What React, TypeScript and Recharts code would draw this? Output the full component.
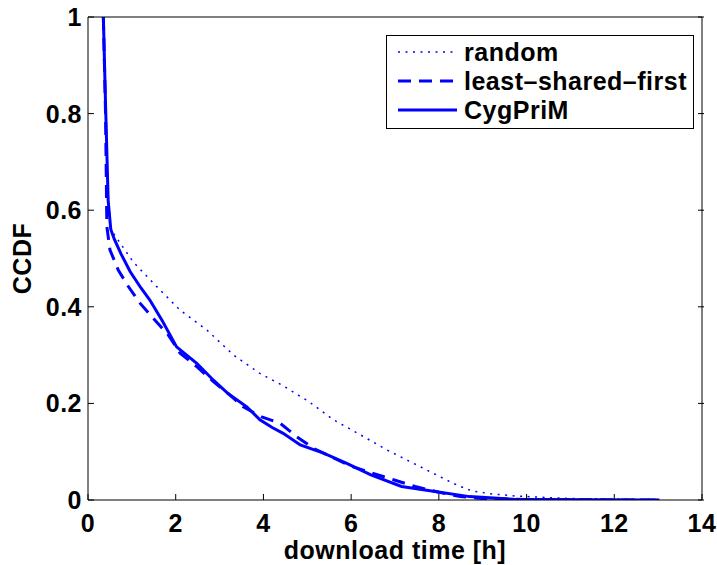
import { LineChart, Line, XAxis, YAxis, Legend, Label } from "recharts";

// download time [h] / CCDF
const randomX = [0.35, 0.4, 0.46, 0.52, 0.58, 1.03, 1.49, 2.1, 2.71, 3.32, 3.92, 4.42, 5.03, 5.6, 6.21, 6.81, 7.42, 8.03, 8.41, 8.75, 9.17, 9.78, 11.0, 12.97];
const randomY = [1, 0.82, 0.63, 0.565, 0.552, 0.493, 0.449, 0.393, 0.352, 0.3, 0.262, 0.238, 0.204, 0.166, 0.135, 0.104, 0.076, 0.048, 0.031, 0.019, 0.013, 0.008, 0.003, 0.001];

const lsfX = [0.35, 0.4, 0.43, 0.5, 0.69, 0.92, 1.19, 1.49, 1.83, 2.1, 2.48, 2.86, 3.2, 3.54, 3.96, 4.38, 4.76, 5.14, 5.6, 6.0, 6.5, 7.0, 7.46, 8.0, 8.49, 9.0, 10, 11, 12, 13];
const lsfY = [1, 0.8, 0.566, 0.518, 0.476, 0.442, 0.407, 0.376, 0.342, 0.304, 0.276, 0.245, 0.22, 0.193, 0.172, 0.159, 0.131, 0.107, 0.087, 0.07, 0.055, 0.041, 0.028, 0.016, 0.007, 0.003, 0.001, 0.0005, 0.0002, 0];

const cygX = [0.35, 0.4, 0.46, 0.52, 0.6, 0.75, 0.96, 1.2, 1.41, 1.7, 2.02, 2.25, 2.48, 2.86, 3.2, 3.62, 3.92, 4.2, 4.45, 4.84, 5.37, 5.9, 6.45, 7.15, 7.95, 8.7, 9.7, 10.5, 11.5, 13.03];
const cygY = [1, 0.82, 0.62, 0.56, 0.54, 0.51, 0.473, 0.44, 0.414, 0.37, 0.317, 0.3, 0.283, 0.248, 0.22, 0.193, 0.166, 0.15, 0.138, 0.114, 0.097, 0.076, 0.052, 0.028, 0.017, 0.007, 0.0015, 0.001, 0.0005, 0];

const xTicks = [0, 2, 4, 6, 8, 10, 12, 14];
const yTicks = [0, 0.2, 0.4, 0.6, 0.8, 1];

const toPoints = (xs: number[], ys: number[]) => xs.map((x, i) => ({ t: x, p: ys[i] }));

const BLUE = "#0000ff";
const FONT = "'Liberation Sans', Arial, sans-serif";

const series = [
  { name: "random", data: toPoints(randomX, randomY), width: 1.5, dash: "2 5.5" },
  { name: "least\u2013shared\u2013first", data: toPoints(lsfX, lsfY), width: 3, dash: "13 8" },
  { name: "CygPriM", data: toPoints(cygX, cygY), width: 3, dash: undefined as string | undefined },
];

const textStyle = { fontFamily: FONT, fontWeight: 700, fontSize: 25, letterSpacing: 0.5, fill: "#000" };

function BottomTick({ x, y, payload }: any) {
  return (
    <g>
      <line x1={x} x2={x} y1={y} y2={y - 6} stroke="#000" />
      <text x={x} y={y + 32} textAnchor="middle" style={textStyle}>{payload.value}</text>
    </g>
  );
}

function LeftTick({ x, y, payload }: any) {
  return (
    <g>
      <line x1={x} x2={x + 6} y1={y} y2={y} stroke="#000" />
      <text x={x - 6} y={y + 9} textAnchor="end" style={textStyle}>{payload.value}</text>
    </g>
  );
}

const TopTick = ({ x, y }: any) => <line x1={x} x2={x} y1={y} y2={y + 6} stroke="#000" />;
const RightTick = ({ x, y }: any) => <line x1={x} x2={x - 6} y1={y} y2={y} stroke="#000" />;

function LegendBox() {
  return (
    <svg width={308} height={94} style={{ display: "block" }}>
      <rect x={0.5} y={0.5} width={307} height={93} fill="#fff" stroke="#000" />
      {series.map((s, i) => {
        const cy = 17 + i * 29;
        return (
          <g key={s.name}>
            <line x1={12} x2={71} y1={cy} y2={cy} stroke={BLUE} strokeWidth={s.width} strokeDasharray={s.dash} />
            <text x={78} y={cy + 9} style={textStyle}>{s.name}</text>
          </g>
        );
      })}
    </svg>
  );
}

export default function App() {
  return (
    <div style={{ position: "absolute", left: 0, top: 0, background: "#fff" }}>
      <LineChart width={717} height={565} margin={{ top: 16, right: 14, bottom: 64, left: 87 }}>
        <XAxis
          dataKey="t"
          type="number"
          domain={[0, 14]}
          ticks={xTicks}
          interval={0}
          height={1}
          tickSize={0}
          tickMargin={0}
          tickLine={false}
          tick={<BottomTick />}
          axisLine={{ stroke: "#000" }}
          allowDataOverflow
        >
          <Label value="download time [h]" position="bottom" offset={40} style={textStyle} />
        </XAxis>
        <XAxis
          xAxisId="top"
          orientation="top"
          type="number"
          domain={[0, 14]}
          ticks={xTicks}
          interval={0}
          height={1}
          tickSize={0}
          tickLine={false}
          tick={<TopTick />}
          axisLine={{ stroke: "#000" }}
          allowDataOverflow
        />
        <YAxis
          type="number"
          domain={[0, 1]}
          ticks={yTicks}
          interval={0}
          width={1}
          tickSize={0}
          tickMargin={0}
          tickLine={false}
          tick={<LeftTick />}
          axisLine={{ stroke: "#000" }}
          allowDataOverflow
        >
          <Label
            content={({ viewBox }: any) => {
              const cx = viewBox.x + viewBox.width - 57;
              const cy = viewBox.y + viewBox.height / 2;
              return (
                <text x={cx} y={cy} transform={`rotate(-90 ${cx} ${cy})`} textAnchor="middle" style={textStyle}>
                  CCDF
                </text>
              );
            }}
          />
        </YAxis>
        <YAxis
          yAxisId="right"
          orientation="right"
          type="number"
          domain={[0, 1]}
          ticks={yTicks}
          interval={0}
          width={1}
          tickSize={0}
          tickLine={false}
          tick={<RightTick />}
          axisLine={{ stroke: "#000" }}
          allowDataOverflow
        />
        {series.map((s) => (
          <Line
            key={s.name}
            data={s.data}
            dataKey="p"
            name={s.name}
            type="linear"
            stroke={BLUE}
            strokeWidth={s.width}
            strokeDasharray={s.dash}
            dot={false}
            activeDot={false}
            isAnimationActive={false}
          />
        ))}
        <Legend
          content={() => <LegendBox />}
          layout="vertical"
          align="center"
          verticalAlign="middle"
          wrapperStyle={{ left: 386, top: 35, width: 308, height: 94 }}
        />
      </LineChart>
    </div>
  );
}
